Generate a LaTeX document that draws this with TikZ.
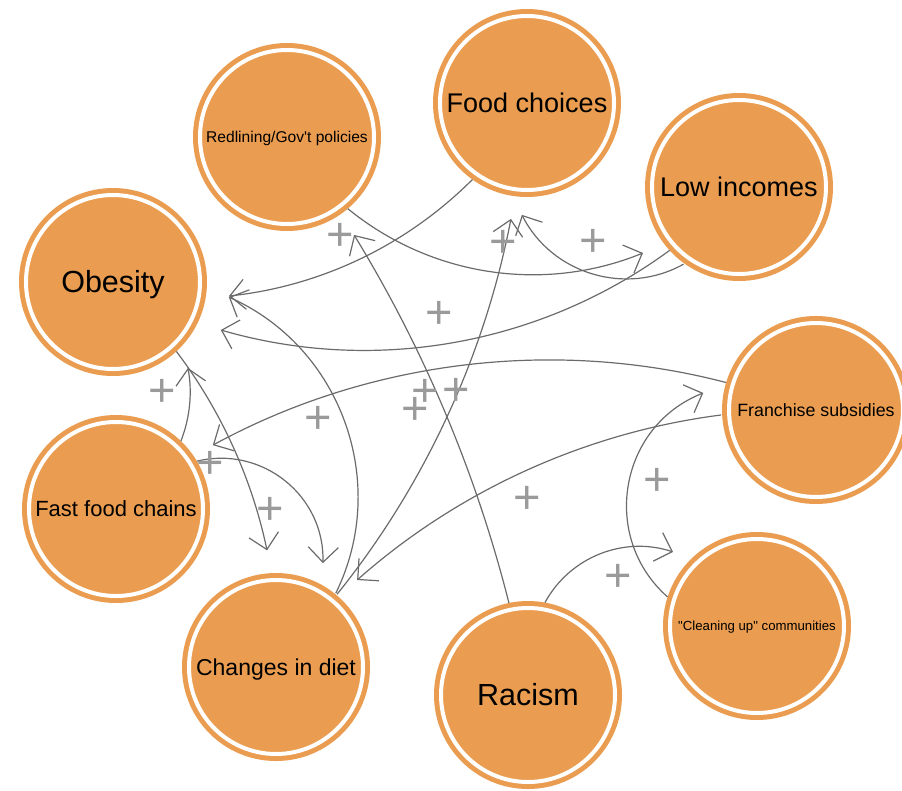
\documentclass[tikz,border=0pt]{standalone}
\usepackage{fontspec}
\setmainfont{Liberation Sans}
\usetikzlibrary{arrows.meta,calc}
\definecolor{loopyorange}{HTML}{EA9D51}
\definecolor{linkgray}{HTML}{6B6B6B}
\definecolor{signgray}{HTML}{9A9A9A}

\begin{document}
\begin{tikzpicture}[x=1pt,y=1pt,
  concept/.style 2 args={circle, fill=loopyorange, draw=loopyorange,
    line width=5pt, double=white, double distance=4pt,
    minimum size=174pt, inner sep=0pt, outer sep=0pt,
    font=\fontsize{#1}{#1}\selectfont, text height=#2, text depth=0pt, text=black},
  link/.style={draw=linkgray, line width=1.2pt,
    -{Straight Barb[length=15pt,width=30pt]}},
  sign/.style={text=signgray, font=\fontsize{47}{47}\selectfont, inner sep=0pt}
]
\useasboundingbox (0,0) rectangle (902,-790);

% concepts
\node[concept={15.6}{11.2pt}] (redlining) at (287,-137) {Redlining/Gov\textquotesingle t policies};
\node[concept={27}{19.3pt}]   (food)      at (527,-103) {Food choices};
\node[concept={27}{19.3pt}]   (lowinc)    at (739,-187) {Low incomes};
\node[concept={30.5}{21.8pt}] (obesity)   at (113,-282) {Obesity};
\node[concept={17.8}{12.7pt}] (franchise) at (816,-410) {Franchise subsidies};
\node[concept={22}{15.8pt}]   (fast)      at (116,-509) {Fast food chains};
\node[concept={23}{16.5pt}]   (diet)      at (276,-667) {Changes in diet};
\node[concept={30.5}{21.8pt}] (racism)    at (528,-695) {Racism};
\node[concept={13.2}{9.5pt}]  (cleaning)  at (757,-626) {\textquotedbl Cleaning up\textquotedbl\ communities};

% causal links
\draw[link] ($(racism)+(101.7:94)$)   to[bend right=8.6, looseness=0.86] ($(redlining)+(-55.6:118.7)$);
\draw[link] ($(food)+(234.5:94)$)     to[bend left=19.4, looseness=0.88] ($(obesity)+(-6.9:116.8)$);
\draw[link] ($(diet)+(51:95)$)        to[bend right=46.1, looseness=1.0] ($(obesity)+(-7.4:116.8)$);
\draw[link] ($(diet)+(50:95)$)        to[bend right=14, looseness=0.86]  ($(food)+(-97.9:117)$);
\draw[link] ($(lowinc)+(-125.7:95)$)  to[bend left=46.2, looseness=1.0]  ($(food)+(-92.6:112)$);
\draw[link] ($(redlining)+(-49.7:94)$) to[bend right=30.7, looseness=0.92] ($(lowinc)+(-145.5:116.5)$);
\draw[link] ($(lowinc)+(-137.6:94)$)  to[bend left=26.2, looseness=0.9]  ($(obesity)+(-24:118)$);
\draw[link] ($(obesity)+(-47.6:94)$)  to[bend left=12.6, looseness=0.86] ($(diet)+(94.4:117)$);
\draw[link] ($(fast)+(46.3:94)$)      to[bend right=15.8, looseness=0.87] ($(obesity)+(-48.9:114)$);
\draw[link] ($(fast)+(30.6:94)$)      to[bend left=52.6, looseness=1.06] ($(diet)+(65.7:114)$);
\draw[link] ($(franchise)+(163:94)$)  to[bend right=21.6, looseness=0.88] ($(fast)+(33.4:116)$);
\draw[link] ($(franchise)+(183:95)$)  to[bend right=17.1, looseness=0.87] ($(diet)+(47:118.9)$);
\draw[link] ($(racism)+(79.6:94)$)    to[bend left=40, looseness=0.96]   ($(cleaning)+(138.6:112)$);
\draw[link] ($(cleaning)+(162:94)$)   to[bend left=58.5, looseness=1.12] ($(franchise)+(171.4:114)$);

% polarity signs
\node[sign] (s1)  at (340,-237) {+};
\node[sign] (s2)  at (503,-244) {+};
\node[sign] (s3)  at (593,-243) {+};
\node[sign] (s4)  at (439,-315) {+};
\node[sign] (s5)  at (425,-393) {+};
\node[sign] (s6)  at (456,-392) {+};
\node[sign] (s7)  at (415,-411) {+};
\node[sign] (s8)  at (527,-500) {+};
\node[sign] (s9)  at (318,-420) {+};
\node[sign] (s10) at (210,-465) {+};
\node[sign] (s11) at (270,-511) {+};
\node[sign] (s12) at (162,-393) {+};
\node[sign] (s13) at (657,-482) {+};
\node[sign] (s14) at (618,-578) {+};
\end{tikzpicture}
\end{document}
